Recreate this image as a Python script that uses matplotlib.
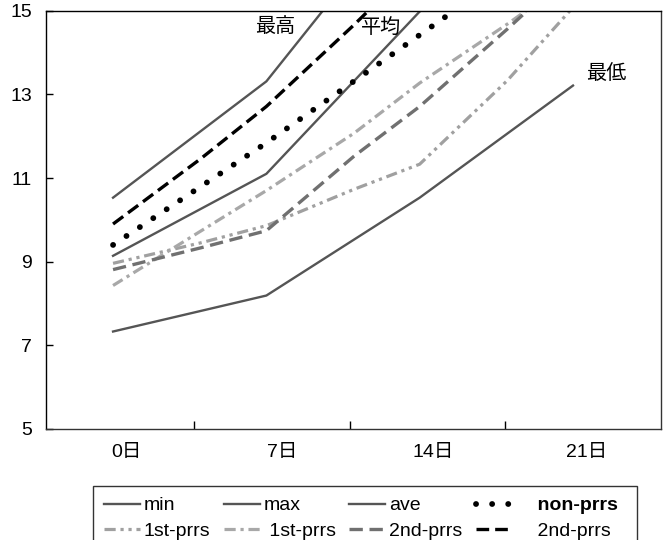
import numpy as np
import matplotlib
matplotlib.use("Agg")
import matplotlib.pyplot as plt

plt.rcParams['font.family'] = ['Liberation Sans', 'Noto Sans CJK JP', 'DejaVu Sans']

# measurement days
days_weekly = [0, 7, 14, 21]
days_all = [0, 4, 7, 11, 14, 18, 21]

# reference bands
ref_min = [7.33, 8.19, 10.53, 13.21]
ref_max = [10.53, 13.31, 17.9, 21.0]
ref_ave = [9.14, 11.10, 14.98, 17.5]

non_prrs = [9.40, 11.84, 14.42, 17.0]

first_prrs_a = [8.96, 9.45, 9.86, 10.73, 11.33, 13.33, 15.08]
first_prrs_b = [8.43, 9.73, 10.70, 12.07, 13.27, 14.68, 15.8]
second_prrs_a = [8.81, 9.33, 9.74, 11.52, 12.71, 14.56, 16.0]
second_prrs_b = [9.90, 11.46, 12.71, 14.66, 16.2, 17.5, 18.8]

tick_labels = ["0日", "7日", "14日", "21日"]
tick_pos = [0.6, 7.7, 14.6, 21.6]
divider_pos = [3.7, 10.8, 17.9]

fig = plt.figure(figsize=(6.69, 5.40), dpi=100)
ax = fig.add_axes([0.0688, 0.2056, 0.9193, 0.7746])

solid = dict(color="#555555", lw=1.7)
h_min, = ax.plot(days_weekly, ref_min, label="min", **solid)
h_max, = ax.plot(days_weekly, ref_max, label="max", **solid)
h_ave, = ax.plot(days_weekly, ref_ave, label="ave", **solid)
h_non, = ax.plot(days_weekly, non_prrs, color="black", lw=4.2,
                 linestyle=(0, (0.01, 2.75)), dash_capstyle="round",
                 label="    non-prrs")
h_1a, = ax.plot(days_all, first_prrs_a, color="#a0a0a0", lw=2.3,
                linestyle=(0, (3.5, 1.5, 1, 1.5, 1, 1.5)), label="1st-prrs")
h_1b, = ax.plot(days_all, first_prrs_b, color="#a8a8a8", lw=2.3,
                linestyle=(0, (3.5, 1.5, 1, 1.5)), label=" 1st-prrs")
h_2a, = ax.plot(days_all, second_prrs_a, color="#707070", lw=2.4,
                linestyle=(0, (4, 2)), label="2nd-prrs")
h_2b, = ax.plot(days_all, second_prrs_b, color="black", lw=2.4,
                linestyle=(0, (3.8, 1.8)), label="    2nd-prrs   ")

ax.text(7.40, 14.62, "最高", fontsize=14.5, ha="center", va="center")
ax.text(12.23, 14.60, "平均", fontsize=14.5, ha="center", va="center")
ax.text(22.5, 13.51, "最低", fontsize=14.5, ha="center", va="center")

ax.set_xlim(-3.06, 25.02)
ax.set_ylim(5, 15)
ax.set_yticks([5, 7, 9, 11, 13, 15])
ax.tick_params(axis="y", direction="in", length=5, width=1, labelsize=14, pad=10)
ax.set_xticks(tick_pos)
ax.set_xticklabels(tick_labels)
ax.tick_params(axis="x", which="major", length=0, labelsize=14, pad=11)
ax.set_xticks(divider_pos, minor=True)
ax.tick_params(axis="x", which="minor", direction="in", length=5.5, width=1)
for side in ["left", "bottom", "top", "right"]:
    ax.spines[side].set_linewidth(1.0)
ax.spines["bottom"].set_color("#333333")
ax.spines["right"].set_color("#333333")

handles = [h_min, h_1a, h_max, h_1b, h_ave, h_2a, h_non, h_2b]
leg = fig.legend(handles=handles, ncol=4, loc="upper left",
                 bbox_to_anchor=(93 / 669, 1 - 486 / 540),
                 fontsize=14, frameon=True, fancybox=False,
                 handlelength=1.85, handletextpad=0.2, columnspacing=0.7,
                 labelspacing=0.4, borderpad=0.55, borderaxespad=0)
leg.get_frame().set_edgecolor("black")
leg.get_frame().set_linewidth(1.0)
for t in leg.get_texts():
    if t.get_text().strip() == "non-prrs":
        t.set_fontweight("bold")

fig.savefig("out.png", dpi=100)
